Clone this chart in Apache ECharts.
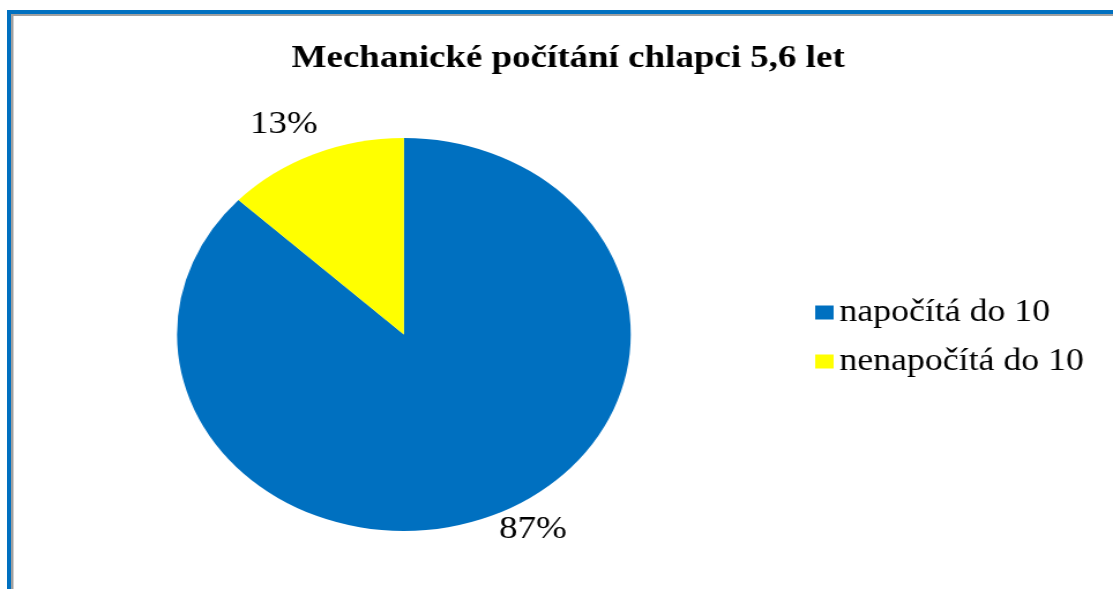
<!DOCTYPE html>
<html>
<head>
<meta charset="utf-8">
<script src="https://cdn.jsdelivr.net/npm/echarts@6/dist/echarts.min.js"></script>
<style>
  html, body { margin: 0; padding: 0; background: #fff; width: 1113px; height: 589px; overflow: hidden; position: relative; }
  #chart { position: absolute; left: 0; top: 0; width: 964px; height: 589px; transform: scaleX(1.1546); transform-origin: 0 0; }
  .ln { position: absolute; }
</style>
</head>
<body>
<div id="chart"></div>
<div class="ln" style="left:7px;top:10px;width:1106px;height:4px;background:#0070C0"></div>
<div class="ln" style="left:7px;top:10px;width:4px;height:579px;background:#0070C0"></div>
<div class="ln" style="left:11px;top:14px;width:1102px;height:2px;background:#a0a0a0"></div>
<div class="ln" style="left:11px;top:14px;width:2px;height:575px;background:#a0a0a0"></div>
<div class="ln" style="left:13px;top:16px;width:1px;height:573px;background:#d0d0d0"></div>
<script>
const titleText = 'Mechanické počítání chlapci 5,6 let';
const categories = ['napočítá do 10', 'nenapočítá do 10'];
const values = [87, 13];

const sliceColors = ['#0070C0', '#FFFF00'];
const labelLines = [{ length: 16, length2: -2 }, { length: 32, length2: -16 }];

const chart = echarts.init(document.getElementById('chart'), null, { renderer: 'canvas' });
chart.setOption({
  animation: false,
  backgroundColor: 'transparent',
  title: {
    text: titleText,
    left: 487,
    textAlign: 'center',
    top: 38,
    textStyle: { fontFamily: 'Liberation Serif', fontWeight: 'bold', fontSize: 32, color: '#000' }
  },
  legend: {
    orient: 'vertical',
    left: 701,
    top: 292,
    itemWidth: 16,
    itemHeight: 14,
    itemGap: 18,
    icon: 'rect',
    data: categories,
    textStyle: { fontFamily: 'Liberation Serif', fontSize: 31, color: '#000' }
  },
  series: [{
    type: 'pie',
    center: [349.8, 334.5],
    radius: [0, 196.5],
    startAngle: 90,
    clockwise: true,
    silent: true,
    label: {
      show: true,
      position: 'outside',
      formatter: '{d}%',
      distanceToLabelLine: 0,
      fontFamily: 'Liberation Serif',
      fontSize: 32,
      color: '#000'
    },
    labelLine: { show: false },
    itemStyle: { borderWidth: 0 },
    data: categories.map((c, i) => ({
      name: c,
      value: values[i],
      itemStyle: { color: sliceColors[i] },
      labelLine: labelLines[i]
    }))
  }]
});
</script>
</body>
</html>
